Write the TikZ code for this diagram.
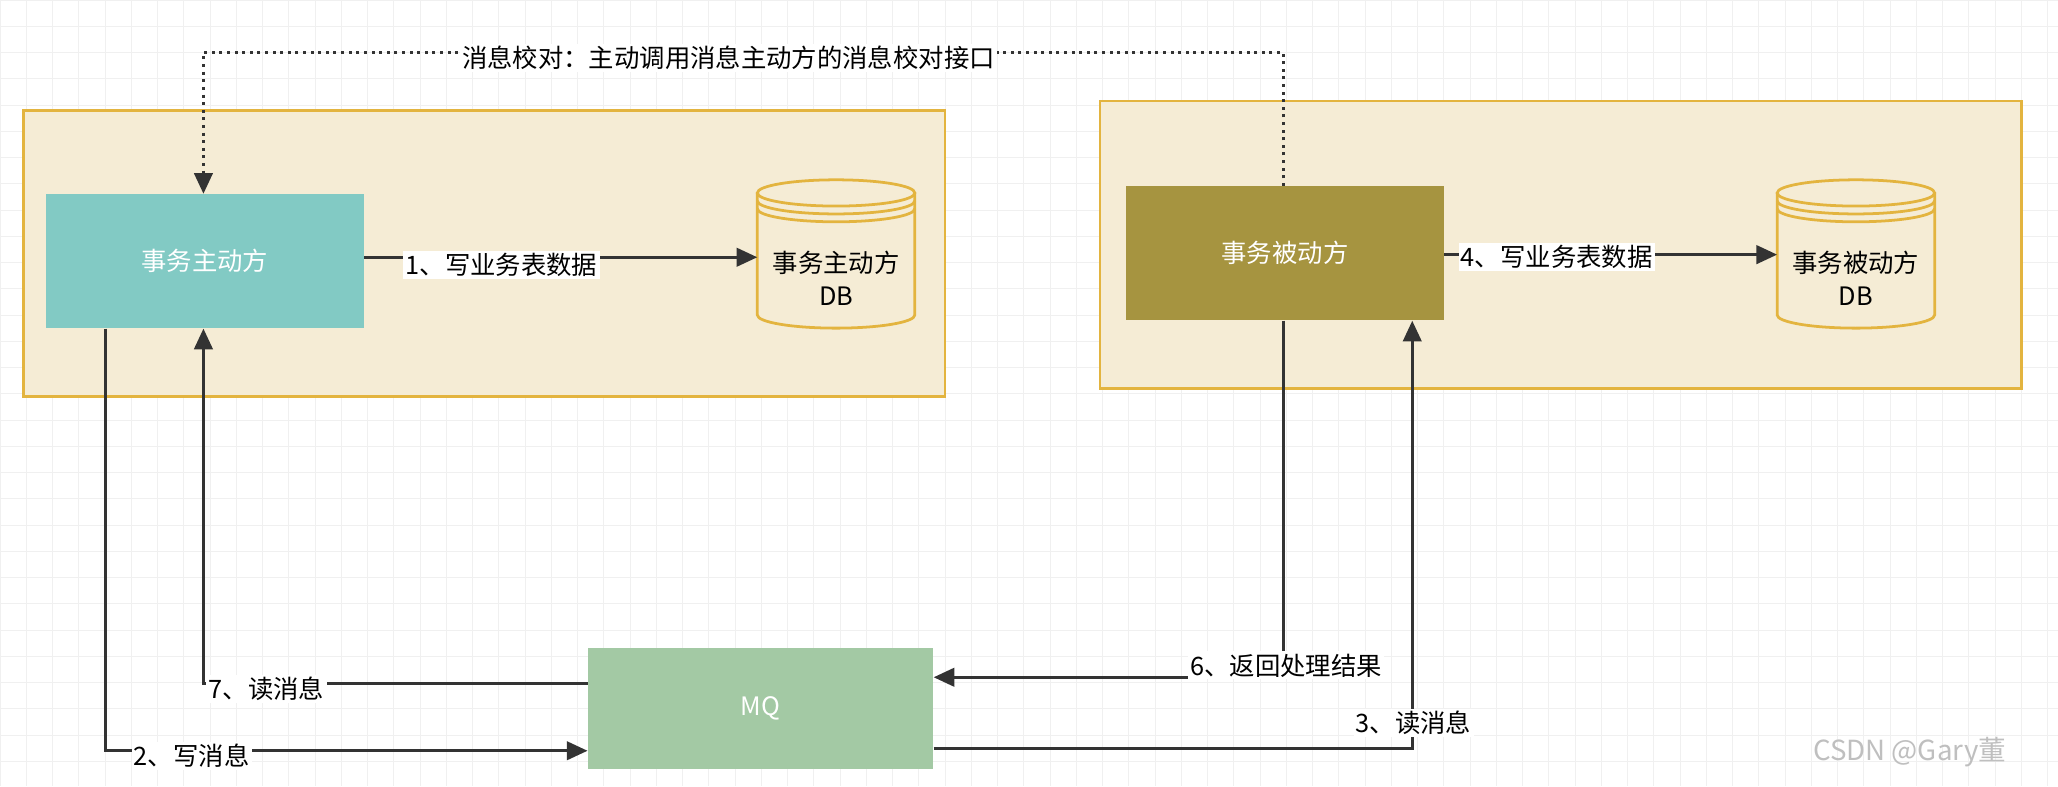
\documentclass[tikz,border=0pt]{standalone}
\usepackage{fontspec}
\setmainfont{Noto Sans CJK SC}
\usetikzlibrary{arrows.meta}
\definecolor{boxline}{HTML}{E3B43F}
\definecolor{boxfill}{HTML}{F5ECD5}
\definecolor{activefill}{HTML}{82CAC4}
\definecolor{passivefill}{HTML}{A69440}
\definecolor{mqfill}{HTML}{A3C9A4}
\definecolor{lineclr}{HTML}{333333}
\tikzset{
  container/.style={draw=boxline, fill=boxfill, line width=1.2pt},
  party/.style={draw=none, text=white, font=\fontsize{11}{13}\selectfont},
  flow/.style={draw=lineclr, line width=1.3pt, -{Triangle[length=9pt,width=8pt]}},
  lbl/.style={fill=white, inner sep=1pt, font=\fontsize{11}{13}\selectfont, text=black},
}
\newcommand{\dbdrum}[2]{% x, top y
  \begin{scope}[shift={(#1,#2)}]
    \fill[boxfill] (-60,10) -- (-60,103) arc[start angle=180,end angle=0,x radius=60,y radius=10] -- (60,10) arc[start angle=0,end angle=-180,x radius=60,y radius=10];
    \draw[boxline, line width=1.2pt] (-60,10) -- (-60,103) arc[start angle=180,end angle=0,x radius=60,y radius=10] -- (60,10);
    \draw[boxline, line width=1.2pt] (0,10) ellipse[x radius=60,y radius=10];
    \draw[boxline, line width=1.2pt] (-60,16) arc[start angle=180,end angle=0,x radius=60,y radius=10];
    \draw[boxline, line width=1.2pt] (-60,22) arc[start angle=180,end angle=0,x radius=60,y radius=10];
  \end{scope}}
\begin{document}
\begin{tikzpicture}[x=0.02cm, y=-0.02cm]
  \useasboundingbox (0,0) rectangle (1568,599);
  \fill[white] (0,0) rectangle (1568,599);
  % faint grid
  \foreach \gx in {0,20,...,1560} \draw[black!6, line width=0.4pt] (\gx,0) -- (\gx,599);
  \foreach \gy in {0,20,...,590} \draw[black!6, line width=0.4pt] (0,\gy) -- (1568,\gy);

  % containers
  \draw[container] (18,84) rectangle (720,302);
  \draw[container] (838,77) rectangle (1540,296);

  % parties
  \node[party, fill=activefill, minimum width=242*0.02cm, minimum height=102*0.02cm] (active) at (156,199) {事务主动方};
  \node[party, fill=passivefill, minimum width=242*0.02cm, minimum height=102*0.02cm] (passive) at (979,193) {事务被动方};
  \node[party, fill=mqfill, minimum width=263*0.02cm, minimum height=92*0.02cm] (mq) at (579.5,540) {MQ};

  % databases
  \dbdrum{637}{137}
  \dbdrum{1414}{137}
  \node[align=center, font=\fontsize{11}{14}\selectfont] (activedb) at (637,212) {事务主动方\\DB};
  \node[align=center, font=\fontsize{11}{14}\selectfont] (passivedb) at (1414,212) {事务被动方\\DB};
  \coordinate (activedbin) at (577,196);
  \coordinate (passivedbin) at (1354,194);

  % business data
  \draw[flow] (active.east |- activedbin) -- (activedbin);
  \node[lbl] at (382,202) {1、写业务表数据};
  \draw[flow] (passive.east |- passivedbin) -- (passivedbin);
  \node[lbl] at (1186,196) {4、写业务表数据};

  % reconciliation
  \coordinate (chk1) at (155,40);
  \coordinate (chk2) at (978,40);
  \draw[lineclr, line width=1.3pt, dotted, -{Triangle[length=9pt,width=8pt]}]
    (passive.north -| 978,0) -- (chk2) -- (chk1) -- (active.north -| 155,0);
  \node[lbl] at (555,44) {消息校对：主动调用消息主动方的消息校对接口};

  % messages
  \coordinate (w1) at (80,572);
  \draw[flow] (active.south -| 80,0) -- (w1) -- (mq.west |- w1);
  \node[lbl] at (146,576) {2、写消息};
  \coordinate (r7) at (155,521);
  \draw[flow] (mq.west |- r7) -- (r7) -- (active.south -| r7);
  \node[lbl] at (203,525) {7、读消息};
  \coordinate (r6) at (978,516);
  \draw[flow] (passive.south -| r6) -- (r6) -- (mq.east |- r6);
  \node[lbl] at (980,507) {6、返回处理结果};
  \coordinate (r3) at (1076,570);
  \draw[flow] (mq.east |- r3) -- (r3) -- (passive.south -| r3);
  \node[lbl] at (1077,551) {3、读消息};

  \node[text=black!25, font=\fontsize{12}{14}\selectfont] at (1455,573) {CSDN @Gary董};
\end{tikzpicture}
\end{document}
